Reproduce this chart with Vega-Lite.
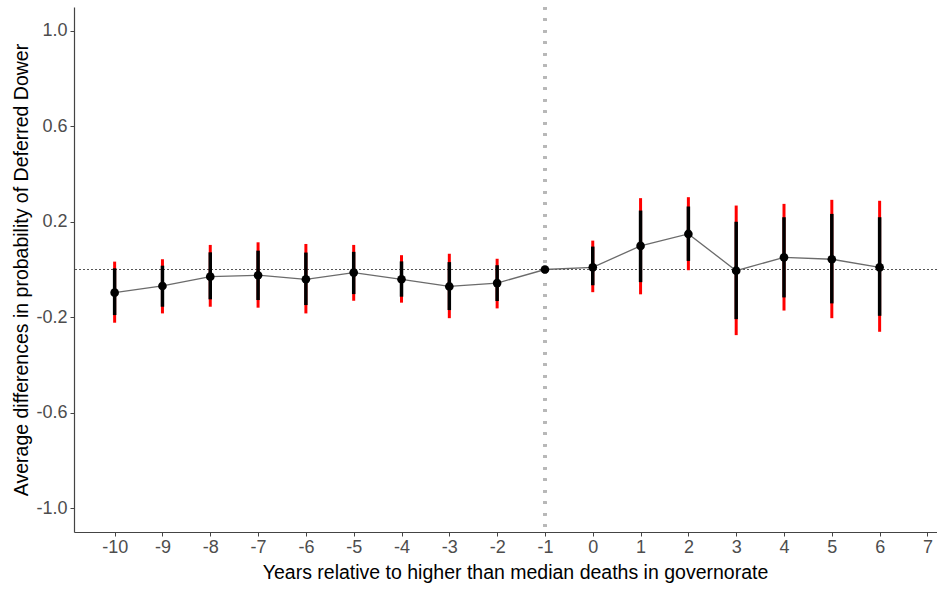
{
  "$schema": "https://vega.github.io/schema/vega-lite/v6.json",
  "width": 863,
  "height": 525,
  "autosize": {"type": "none"},
  "padding": {"left": 74, "top": 7, "right": 0, "bottom": 57},
  "background": "white",
  "config": {
    "view": {"stroke": null},
    "axis": {
      "grid": false,
      "labelFont": "Liberation Sans",
      "labelFontSize": 18,
      "labelColor": "#4d4d4d",
      "titleFont": "Liberation Sans",
      "titleFontSize": 19.5,
      "titleFontWeight": "normal",
      "titleColor": "#000000",
      "domainColor": "#444444",
      "domainWidth": 1.2,
      "tickColor": "#444444",
      "tickSize": 4,
      "tickWidth": 1
    }
  },
  "data": {
    "values": [
      {"year": -10, "est": -0.097, "lo95": -0.223, "hi95": 0.033, "lo90": -0.191, "hi90": 0.005},
      {"year": -9, "est": -0.069, "lo95": -0.184, "hi95": 0.043, "lo90": -0.156, "hi90": 0.016},
      {"year": -8, "est": -0.030, "lo95": -0.156, "hi95": 0.103, "lo90": -0.125, "hi90": 0.072},
      {"year": -7, "est": -0.024, "lo95": -0.160, "hi95": 0.114, "lo90": -0.128, "hi90": 0.079},
      {"year": -6, "est": -0.041, "lo95": -0.184, "hi95": 0.107, "lo90": -0.149, "hi90": 0.071},
      {"year": -5, "est": -0.013, "lo95": -0.131, "hi95": 0.103, "lo90": -0.103, "hi90": 0.074},
      {"year": -4, "est": -0.041, "lo95": -0.139, "hi95": 0.060, "lo90": -0.114, "hi90": 0.034},
      {"year": -3, "est": -0.071, "lo95": -0.204, "hi95": 0.066, "lo90": -0.170, "hi90": 0.031},
      {"year": -2, "est": -0.057, "lo95": -0.163, "hi95": 0.045, "lo90": -0.132, "hi90": 0.018},
      {"year": -1, "est": 0.0, "lo95": null, "hi95": null, "lo90": null, "hi90": null},
      {"year": 0, "est": 0.009, "lo95": -0.095, "hi95": 0.121, "lo90": -0.066, "hi90": 0.096},
      {"year": 1, "est": 0.099, "lo95": -0.104, "hi95": 0.299, "lo90": -0.053, "hi90": 0.247},
      {"year": 2, "est": 0.149, "lo95": -0.003, "hi95": 0.303, "lo90": 0.036, "hi90": 0.264},
      {"year": 3, "est": -0.005, "lo95": -0.275, "hi95": 0.268, "lo90": -0.208, "hi90": 0.200},
      {"year": 4, "est": 0.051, "lo95": -0.172, "hi95": 0.275, "lo90": -0.117, "hi90": 0.219},
      {"year": 5, "est": 0.043, "lo95": -0.204, "hi95": 0.292, "lo90": -0.142, "hi90": 0.233},
      {"year": 6, "est": 0.009, "lo95": -0.261, "hi95": 0.288, "lo90": -0.194, "hi90": 0.219}
    ]
  },
  "layer": [
    {
      "mark": {"type": "rule", "color": "#555555", "strokeWidth": 1, "strokeDash": [1.2, 2.8]},
      "encoding": {"y": {"datum": 0, "type": "quantitative"}}
    },
    {
      "mark": {"type": "rule", "color": "#b8b8b8", "strokeWidth": 2.5, "strokeDash": [2.5, 9]},
      "encoding": {"x": {"datum": -1, "type": "quantitative"}}
    },
    {
      "mark": {"type": "line", "color": "#6b6b6b", "strokeWidth": 1.3},
      "encoding": {
        "x": {
          "field": "year", "type": "quantitative",
          "scale": {"domain": [-10.85, 7.2], "nice": false, "zero": false},
          "axis": {
            "values": [-10, -9, -8, -7, -6, -5, -4, -3, -2, -1, 0, 1, 2, 3, 4, 5, 6, 7],
            "labelExpr": "datum.value < 0 ? '-' + abs(datum.value) : '' + datum.value",
            "labelPadding": 2,
            "titlePadding": 7,
            "titleX": 441,
            "title": "Years relative to higher than median deaths in governorate"
          }
        },
        "y": {
          "field": "est", "type": "quantitative",
          "scale": {"domain": [-1.1, 1.1], "nice": false, "zero": false},
          "axis": {
            "values": [-1.0, -0.6, -0.2, 0.2, 0.6, 1.0],
            "labelExpr": "datum.value < 0 ? '-' + format(abs(datum.value), '.1f') : format(datum.value, '.1f')",
            "labelPadding": 3,
            "titlePadding": 4,
            "title": "Average differences in probability of Deferred Dower"
          }
        }
      }
    },
    {
      "mark": {"type": "rule", "color": "#ff0000", "strokeWidth": 3},
      "encoding": {
        "x": {"field": "year", "type": "quantitative"},
        "y": {"field": "lo95", "type": "quantitative"},
        "y2": {"field": "hi95"}
      }
    },
    {
      "mark": {"type": "rule", "color": "#000000", "strokeWidth": 3.5},
      "encoding": {
        "x": {"field": "year", "type": "quantitative"},
        "y": {"field": "lo90", "type": "quantitative"},
        "y2": {"field": "hi90"}
      }
    },
    {
      "mark": {"type": "point", "filled": true, "color": "#000000", "opacity": 1, "size": 75},
      "encoding": {
        "x": {"field": "year", "type": "quantitative"},
        "y": {"field": "est", "type": "quantitative"}
      }
    }
  ]
}
